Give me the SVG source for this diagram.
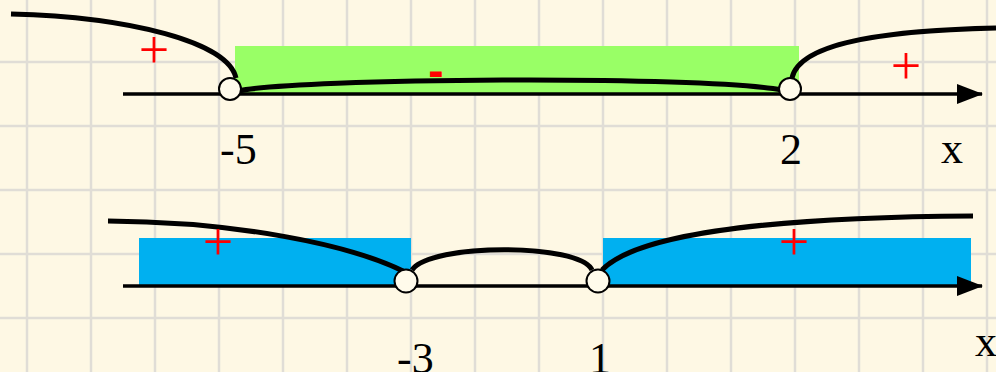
<svg xmlns="http://www.w3.org/2000/svg" width="996" height="372" viewBox="0 0 996 372">
<style>
.grid line{stroke:#e0ddd6;stroke-width:2.5}
.axis{stroke:#000;stroke-width:3.5;fill:none}
.curve{stroke:#000;stroke-width:5;fill:none;stroke-linecap:butt}
.pt{fill:#fffbeb;stroke:#000;stroke-width:2}
.lbl{font-family:"Liberation Serif","Times New Roman",serif;font-size:44px;fill:#000}
.sign{font-family:"Liberation Serif","Times New Roman",serif;font-size:54px;fill:#ff0000;text-anchor:middle}
.minus{font-family:"Liberation Sans",Arial,sans-serif;font-weight:bold;font-size:46px;fill:#ff0000;text-anchor:middle}
</style>
<defs>
<marker id="arr" markerWidth="26" markerHeight="20" refX="25" refY="10" orient="auto" markerUnits="userSpaceOnUse">
<polygon points="0,0 26,10 0,20" fill="#000"/>
</marker>
</defs>
<rect width="996" height="372" fill="#fef8e4"/>
<g class="grid">
<line x1="27" y1="0" x2="27" y2="372"/><line x1="91" y1="0" x2="91" y2="372"/><line x1="155" y1="0" x2="155" y2="372"/><line x1="219" y1="0" x2="219" y2="372"/><line x1="283" y1="0" x2="283" y2="372"/><line x1="347" y1="0" x2="347" y2="372"/><line x1="411" y1="0" x2="411" y2="372"/><line x1="475" y1="0" x2="475" y2="372"/><line x1="539" y1="0" x2="539" y2="372"/><line x1="603" y1="0" x2="603" y2="372"/><line x1="667" y1="0" x2="667" y2="372"/><line x1="731" y1="0" x2="731" y2="372"/><line x1="795" y1="0" x2="795" y2="372"/><line x1="859" y1="0" x2="859" y2="372"/><line x1="923" y1="0" x2="923" y2="372"/><line x1="987" y1="0" x2="987" y2="372"/>
<line x1="0" y1="62" x2="996" y2="62"/><line x1="0" y1="126" x2="996" y2="126"/><line x1="0" y1="190" x2="996" y2="190"/><line x1="0" y1="254" x2="996" y2="254"/><line x1="0" y1="318" x2="996" y2="318"/>
</g>
<g id="top">
<rect x="235" y="46" width="564" height="48" fill="#99ff66"/>
<line class="axis" x1="123" y1="94" x2="982" y2="94" marker-end="url(#arr)"/>
<path class="curve" d="M11 14 C130 17 228 42 236 78"/>
<path class="curve" d="M238 91 C300 78 700 75 782 90"/>
<path class="curve" d="M792 78 C800 40 900 30 996 28"/>
<circle class="pt" cx="230" cy="89" r="11"/>
<circle class="pt" cx="790" cy="89" r="11"/>
<text class="sign" x="154" y="68">+</text>
<text class="sign" x="906" y="84">+</text>
<text class="minus" x="436" y="86">-</text>
<text class="lbl" x="220" y="164">-5</text>
<text class="lbl" x="791" y="164" text-anchor="middle">2</text>
<text class="lbl" x="952" y="163" text-anchor="middle">x</text>
</g>
<g id="bottom">
<rect x="139" y="238" width="272" height="48" fill="#00b0f0"/>
<rect x="603" y="238" width="368" height="48" fill="#00b0f0"/>
<line class="axis" x1="123" y1="286" x2="982" y2="286" marker-end="url(#arr)"/>
<path class="curve" d="M108 221 C240 222 350 245 403 271"/>
<path class="curve" d="M412 270 C430 243 580 243 592 270"/>
<path class="curve" d="M602 270 C640 230 800 217 973 216"/>
<circle class="pt" cx="406" cy="281" r="11.5"/>
<circle class="pt" cx="598" cy="281" r="11.5"/>
<text class="sign" x="218" y="260">+</text>
<text class="sign" x="794" y="260">+</text>
<text class="lbl" x="397" y="373">-3</text>
<text class="lbl" x="600" y="373" text-anchor="middle">1</text>
<text class="lbl" x="986" y="356" text-anchor="middle">x</text>
</g>
</svg>
